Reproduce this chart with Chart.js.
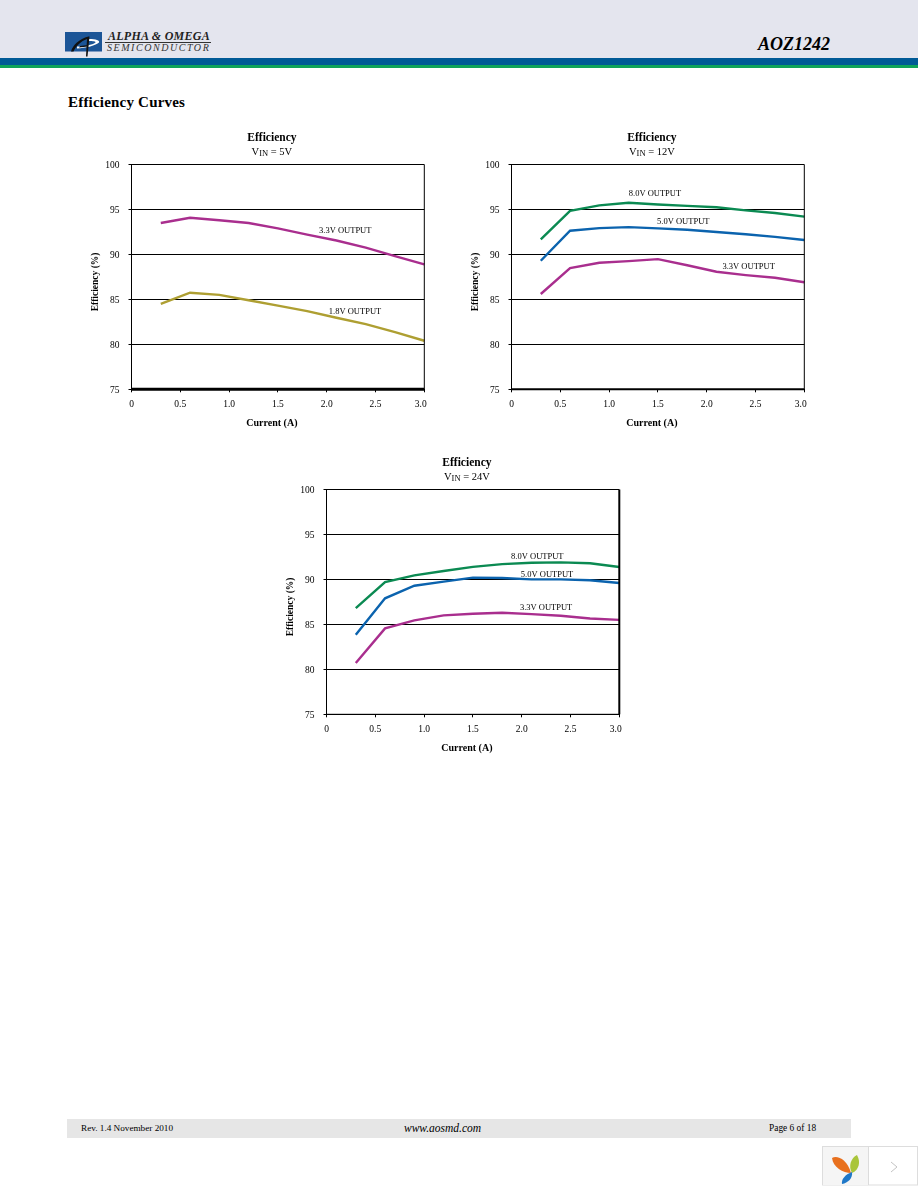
<!DOCTYPE html>
<html>
<head>
<meta charset="utf-8">
<title>AOZ1242 Efficiency Curves</title>
<script src="https://cdn.jsdelivr.net/npm/chart.js@4/dist/chart.umd.min.js"></script>
<style>
html, body { margin: 0; padding: 0; background: #fff; }
body { position: relative; width: 918px; height: 1188px; overflow: hidden; font-family: "Liberation Serif", serif; color: #000; }
.abs { position: absolute; white-space: nowrap; }
canvas { position: absolute; }
</style>
</head>
<body>
<div class="abs" style="left:0;top:0;width:918px;height:58px;background:#e4e5ee"></div>
<div class="abs" style="left:0;top:58px;width:918px;height:7px;background:#005a96"></div>
<div class="abs" style="left:0;top:65px;width:918px;height:3px;background:#0fa35a"></div>

<svg class="abs" style="left:65px;top:32px" width="38" height="26" viewBox="0 0 38 26">
  <rect x="0" y="0" width="37" height="19.5" fill="#1c5597"/>
  <path d="M12 16.5 C20 16 30 14 34 10.5 C35 8.5 31 7 24 7 L24 9 C28 9 31 9.5 30.5 10.5 C27 13 20 14.5 12 14.5 Z" fill="#fff"/>
  <path d="M6 19.5 C8 13 14 7 23.5 4.5 L24.5 4.5 L22.5 24.5 L21 24.5 L22 7 C16 9 11 14 8.5 19.5 Z" fill="#111"/>
  <path d="M14 15.5 L23 14.5 L23 13 L15 14 Z" fill="#111"/>
</svg>
<div class="abs" style="left:108px;top:29px;font:italic bold 12px 'Liberation Serif';letter-spacing:.25px;color:#222">ALPHA &amp; OMEGA</div>
<div class="abs" style="left:105px;top:42px;width:106px;height:1px;background:#333"></div>
<div class="abs" style="left:107px;top:42px;font:italic 10px 'Liberation Serif';letter-spacing:1.55px;color:#333">SEMICONDUCTOR</div>
<div class="abs" style="left:758px;top:34px;font:italic bold 18px 'Liberation Serif'">AOZ1242</div>
<div class="abs" style="left:68px;top:94px;font:bold 15px 'Liberation Serif';letter-spacing:.2px">Efficiency Curves</div>

<canvas id="chart5v"></canvas>
<canvas id="chart12v"></canvas>
<canvas id="chart24v"></canvas>

<div class="abs" style="left:67px;top:1119px;width:784px;height:19px;background:#e6e6e6"></div>
<div class="abs" style="left:81px;top:1123px;font:9.2px 'Liberation Serif'">Rev. 1.4 November 2010</div>
<div class="abs" style="left:404px;top:1122px;font:italic 11.5px 'Liberation Serif'">www.aosmd.com</div>
<div class="abs" style="left:769px;top:1123px;font:9.4px 'Liberation Serif'">Page 6 of 18</div>

<svg class="abs" style="left:822px;top:1146px" width="96" height="42" viewBox="0 0 96 42">
  <rect x="0.5" y="0.5" width="95" height="38.5" fill="#fff" stroke="#ddd"/>
  <rect x="1" y="1" width="45" height="38" fill="#f5f5f5"/>
  <line x1="46.5" y1="0" x2="46.5" y2="39" stroke="#dcdcdc"/>
  <path d="M10 12 C15 9 25 13 29 27 C21 27 11 21 10 12 Z" fill="#e8701e"/>
  <path d="M35 9 C39 16 37 24 30 27 C26 20 29 12 35 9 Z" fill="#a9c53a"/>
  <path d="M30 26 C31 32 26 37 20 38 C19 33 24 28 30 26 Z" fill="#1f78c8"/>
  <path d="M69 16 L75 21 L69 26" fill="none" stroke="#c4c4c4"/>
</svg>

<script>
// values, currents are the same for all curves
const currents = [0.3, 0.6, 0.9, 1.2, 1.5, 1.8, 2.1, 2.4, 2.7, 3.0];

const vin5_33 = [93.5, 94.07, 93.8, 93.5, 92.9, 92.2, 91.55, 90.75, 89.8, 88.9];
const vin5_18 = [84.5, 85.74, 85.5, 84.9, 84.3, 83.7, 82.96, 82.25, 81.35, 80.4];

const vin12_80 = [91.67, 94.85, 95.45, 95.74, 95.55, 95.4, 95.25, 94.9, 94.6, 94.2];
const vin12_50 = [89.3, 92.63, 92.93, 93.04, 92.9, 92.75, 92.5, 92.25, 91.95, 91.6];
const vin12_33 = [85.6, 88.48, 89.07, 89.26, 89.48, 88.8, 88.07, 87.7, 87.4, 86.9];

const vin24_80 = [86.8, 89.7, 90.45, 90.94, 91.4, 91.7, 91.85, 91.9, 91.8, 91.38];
const vin24_50 = [83.84, 87.9, 89.3, 89.75, 90.2, 90.15, 90.0, 90.0, 89.9, 89.6];
const vin24_33 = [80.7, 84.55, 85.44, 86.0, 86.18, 86.3, 86.14, 85.96, 85.66, 85.5];

const magenta = '#a92e8e';
const olive = '#ae9f32';
const green = '#0b8a52';
const blue = '#0b63ae';

const serif = '"Liberation Serif", serif';

function curve(label, values, color, labelX, labelY) {
    return {
        label: label,
        data: currents.map((x, i) => ({ x: x, y: values[i] })),
        borderColor: color,
        borderWidth: 2.4,
        pointRadius: 0,
        tension: 0,
        clip: false,
        labelX: labelX,
        labelY: labelY
    };
}

// titles, curve labels and the heavier frame edges
const captions = {
    id: 'captions',
    afterDraw(chart, args, opts) {
        const ctx = chart.ctx;
        const area = chart.chartArea;
        const mid = (area.left + area.right) / 2 - 6;
        ctx.save();
        ctx.strokeStyle = '#000';
        ctx.lineWidth = opts.bottomEdge;
        ctx.beginPath();
        ctx.moveTo(area.left, area.bottom);
        ctx.lineTo(area.right, area.bottom);
        ctx.stroke();
        ctx.lineWidth = opts.rightEdge;
        ctx.beginPath();
        ctx.moveTo(area.right, area.top);
        ctx.lineTo(area.right, area.bottom);
        ctx.stroke();

        ctx.fillStyle = '#000';
        ctx.textBaseline = 'middle';
        ctx.textAlign = 'center';
        ctx.font = 'bold 11.5px ' + serif;
        ctx.fillText('Efficiency', mid, area.top - 26);
        ctx.font = 'bold 10px ' + serif;
        ctx.fillText('Current (A)', mid, area.bottom + 34);

        // V with the IN subscript, then the rest of the line
        ctx.font = '10.5px ' + serif;
        const rest = ' = ' + opts.vin;
        const w1 = ctx.measureText('V').width;
        const w3 = ctx.measureText(rest).width;
        ctx.font = '8.5px ' + serif;
        const w2 = ctx.measureText('IN').width;
        let x = mid - (w1 + w2 + w3) / 2;
        ctx.textAlign = 'left';
        ctx.font = '10.5px ' + serif;
        ctx.fillText('V', x, area.top - 12.5);
        ctx.font = '8.5px ' + serif;
        ctx.fillText('IN', x + w1, area.top - 11);
        ctx.font = '10.5px ' + serif;
        ctx.fillText(rest, x + w1 + w2, area.top - 12.5);

        ctx.save();
        ctx.translate(area.left - 35.8, (area.top + area.bottom) / 2 + 5);
        ctx.rotate(-Math.PI / 2);
        ctx.textAlign = 'center';
        ctx.font = 'bold 9.5px ' + serif;
        ctx.fillText('Efficiency (%)', 0, 0);
        ctx.restore();

        ctx.font = '8.5px ' + serif;
        ctx.textAlign = 'center';
        chart.data.datasets.forEach(ds => {
            ctx.fillText(ds.label, chart.scales.x.getPixelForValue(ds.labelX), chart.scales.y.getPixelForValue(ds.labelY));
        });
        ctx.restore();
    }
};

function makeChart(id, left, top, vin, bottomEdge, rightEdge, datasets) {
    const canvas = document.getElementById(id);
    canvas.style.left = left + 'px';
    canvas.style.top = top + 'px';
    return new Chart(canvas.getContext('2d'), {
        type: 'line',
        data: { datasets: datasets },
        plugins: [captions],
        options: {
            responsive: false,
            animation: false,
            layout: { padding: { top: 39.5, right: 15.7, bottom: 0, left: 0 } },
            plugins: {
                legend: { display: false },
                tooltip: { enabled: false },
                captions: { vin: vin, bottomEdge: bottomEdge, rightEdge: rightEdge }
            },
            scales: {
                x: {
                    type: 'linear',
                    min: 0,
                    max: 3,
                    afterFit(scale) { scale.height = 45.7; },
                    grid: { drawOnChartArea: false, color: '#000', tickLength: 3 },
                    border: { color: '#000' },
                    ticks: {
                        stepSize: 0.5,
                        color: '#000',
                        maxRotation: 0,
                        padding: 6,
                        font: { family: serif, size: 9.5 },
                        // the last label sits a little left of its tick in the original
                        callback: v => v === 0 ? '0' : v === 3 ? '3.0\u00a0\u00a0\u00a0' : v.toFixed(1)
                    }
                },
                y: {
                    min: 75,
                    max: 100,
                    afterFit(scale) { scale.width = 51.5; },
                    grid: { color: '#000', tickLength: 3 },
                    border: { color: '#000' },
                    ticks: {
                        stepSize: 5,
                        color: '#000',
                        padding: 9,
                        labelOffset: 1.3,
                        font: { family: serif, size: 9.5 }
                    }
                }
            }
        }
    });
}

for (const id of ['chart5v', 'chart12v', 'chart24v']) {
    document.getElementById(id).width = 360;
    document.getElementById(id).height = 310;
}

makeChart('chart5v', 80, 125, '5V', 3, 1, [
    curve('3.3V OUTPUT', vin5_33, magenta, 2.19, 92.6),
    curve('1.8V OUTPUT', vin5_18, olive, 2.29, 83.6)
]);
makeChart('chart12v', 460, 125, '12V', 2, 1, [
    curve('8.0V OUTPUT', vin12_80, green, 1.47, 96.7),
    curve('5.0V OUTPUT', vin12_50, blue, 1.76, 93.6),
    curve('3.3V OUTPUT', vin12_33, magenta, 2.43, 88.6)
]);
makeChart('chart24v', 275, 450, '24V', 1, 2, [
    curve('8.0V OUTPUT', vin24_80, green, 2.16, 92.5),
    curve('5.0V OUTPUT', vin24_50, blue, 2.26, 90.5),
    curve('3.3V OUTPUT', vin24_33, magenta, 2.25, 86.85)
]);
</script>
</body>
</html>
